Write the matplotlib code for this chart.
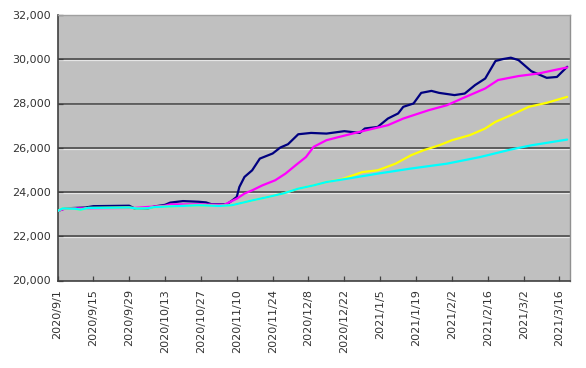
import matplotlib
matplotlib.use("Agg")
import matplotlib.pyplot as plt
import matplotlib.dates as mdates
import pandas as pd

# ---- data ----
navy_dates = ["2020-09-01", "2020-09-04", "2020-09-12", "2020-09-15", "2020-09-29", "2020-10-01",
              "2020-10-06", "2020-10-09", "2020-10-13", "2020-10-15", "2020-10-20", "2020-10-26",
              "2020-10-29", "2020-10-31", "2020-11-06", "2020-11-08", "2020-11-10", "2020-11-11",
              "2020-11-13", "2020-11-16", "2020-11-19", "2020-11-24", "2020-11-27", "2020-11-30",
              "2020-12-04", "2020-12-09", "2020-12-15", "2020-12-22", "2020-12-28", "2020-12-30",
              "2021-01-04", "2021-01-08", "2021-01-12", "2021-01-14", "2021-01-18", "2021-01-21",
              "2021-01-25", "2021-01-28", "2021-02-03", "2021-02-07", "2021-02-11", "2021-02-15",
              "2021-02-19", "2021-02-22", "2021-02-25", "2021-02-28", "2021-03-05", "2021-03-07",
              "2021-03-11", "2021-03-15", "2021-03-19"]
navy_values = [23140, 23260, 23300, 23360, 23380, 23260,
               23250, 23350, 23420, 23520, 23590, 23560,
               23530, 23450, 23440, 23600, 23780, 24225,
               24680, 24980, 25510, 25740, 26010, 26160,
               26610, 26670, 26640, 26750, 26670, 26870,
               26940, 27320, 27550, 27850, 28000, 28480,
               28570, 28480, 28380, 28450, 28830, 29130,
               29920, 30010, 30070, 29960, 29460, 29360,
               29160, 29200, 29660]

magenta_dates = ["2020-09-01", "2020-09-04", "2020-09-15", "2020-10-01", "2020-10-13", "2020-10-15",
                 "2020-10-26", "2020-11-05", "2020-11-10", "2020-11-13", "2020-11-16", "2020-11-20",
                 "2020-11-25", "2020-11-29", "2020-12-03", "2020-12-07", "2020-12-10", "2020-12-15",
                 "2020-12-20", "2020-12-28", "2021-01-08", "2021-01-14", "2021-01-24", "2021-01-31",
                 "2021-02-06", "2021-02-15", "2021-02-20", "2021-02-28", "2021-03-08", "2021-03-14",
                 "2021-03-19"]
magenta_values = [23140, 23250, 23270, 23280, 23380, 23440,
                  23440, 23420, 23700, 23930, 24075, 24300,
                  24530, 24830, 25210, 25580, 26040, 26340,
                  26490, 26720, 27020, 27320, 27700, 27920,
                  28230, 28680, 29060, 29240, 29360, 29510,
                  29630]

yellow_dates = ["2020-09-01", "2020-09-03", "2020-09-08", "2020-09-10", "2020-09-13", "2020-09-29",
                "2020-10-02", "2020-10-06", "2020-10-09", "2020-10-26", "2020-11-03", "2020-11-08",
                "2020-11-16", "2020-11-22", "2020-11-28", "2020-12-04", "2020-12-10", "2020-12-15",
                "2020-12-21", "2020-12-29", "2021-01-04", "2021-01-11", "2021-01-17", "2021-01-22",
                "2021-01-28", "2021-02-02", "2021-02-09", "2021-02-15", "2021-02-19", "2021-02-25",
                "2021-03-04", "2021-03-11", "2021-03-19"]
yellow_values = [23140, 23260, 23240, 23200, 23280, 23300,
                 23250, 23260, 23320, 23400, 23370, 23400,
                 23620, 23770, 23930, 24150, 24300, 24450,
                 24580, 24900, 24980, 25280, 25660, 25890,
                 26110, 26340, 26570, 26870, 27170, 27470,
                 27850, 28030, 28300]

cyan_dates = ["2020-09-01", "2020-09-03", "2020-09-08", "2020-09-10", "2020-09-13", "2020-09-29",
              "2020-10-02", "2020-10-06", "2020-10-09", "2020-10-26", "2020-11-03", "2020-11-08",
              "2020-11-16", "2020-11-22", "2020-11-28", "2020-12-04", "2020-12-10", "2020-12-15",
              "2020-12-22", "2021-01-04", "2021-01-17", "2021-01-31", "2021-02-13", "2021-02-25",
              "2021-03-05", "2021-03-19"]
cyan_values = [23140, 23260, 23240, 23200, 23280, 23300,
               23250, 23260, 23320, 23400, 23370, 23400,
               23620, 23770, 23930, 24150, 24300, 24450,
               24580, 24830, 25060, 25280, 25580, 25920,
               26110, 26370]

tick_labels = ["2020/9/1", "2020/9/15", "2020/9/29", "2020/10/13", "2020/10/27", "2020/11/10",
               "2020/11/24", "2020/12/8", "2020/12/22", "2021/1/5", "2021/1/19", "2021/2/2",
               "2021/2/16", "2021/3/2", "2021/3/16"]
y_ticks = [20000, 22000, 24000, 26000, 28000, 30000, 32000]

# ---- figure ----
fig = plt.figure(figsize=(5.86, 3.68), dpi=100)
ax = fig.add_axes([57.5 / 586, 1 - 280.5 / 368, (570 - 57.5) / 586, (280.5 - 15) / 368])
ax.set_facecolor("#c0c0c0")

# gridlines (dark line with light highlight)
for v in y_ticks[1:-1]:
    ax.axhline(v - 40, color="#e6e6e6", lw=0.9, zorder=1)
    ax.axhline(v, color="#404040", lw=1.1, zorder=1.1)

series = [
    (navy_dates, navy_values, "#000080"),
    (magenta_dates, magenta_values, "#ff00ff"),
    (yellow_dates, yellow_values, "#ffff00"),
    (cyan_dates, cyan_values, "#00ffff"),
]
for i, (d, v, c) in enumerate(series):
    ax.plot(pd.to_datetime(d), v, color=c, lw=1.6, zorder=3 + i,
            solid_joinstyle="round", solid_capstyle="round")

ax.set_ylim(20000, 32000)
ax.set_yticks(y_ticks)
ax.set_yticklabels([f"{v:,}" for v in y_ticks])

x0 = pd.Timestamp("2020-09-01")
ax.set_xlim(mdates.date2num(x0), mdates.date2num(pd.Timestamp("2021-03-20")) + 0.1)
ticks = pd.date_range(x0, periods=len(tick_labels), freq="14D")
ax.set_xticks(mdates.date2num(ticks))
ax.set_xticklabels(tick_labels, rotation=90)

ax.tick_params(axis="both", direction="in", length=3.5, width=0.9, color="#404040",
               labelsize=8, labelcolor="#333333")
ax.tick_params(axis="x", pad=6)
ax.tick_params(axis="y", pad=5)

ax.spines["left"].set_color("#404040")
ax.spines["bottom"].set_color("#404040")
ax.spines["left"].set_linewidth(1.2)
ax.spines["bottom"].set_linewidth(1.2)
ax.spines["top"].set_color("#a0a0a0")
ax.spines["right"].set_color("#909090")
ax.spines["top"].set_linewidth(1.0)
ax.spines["right"].set_linewidth(1.0)

fig.savefig("out.png", dpi=100)
